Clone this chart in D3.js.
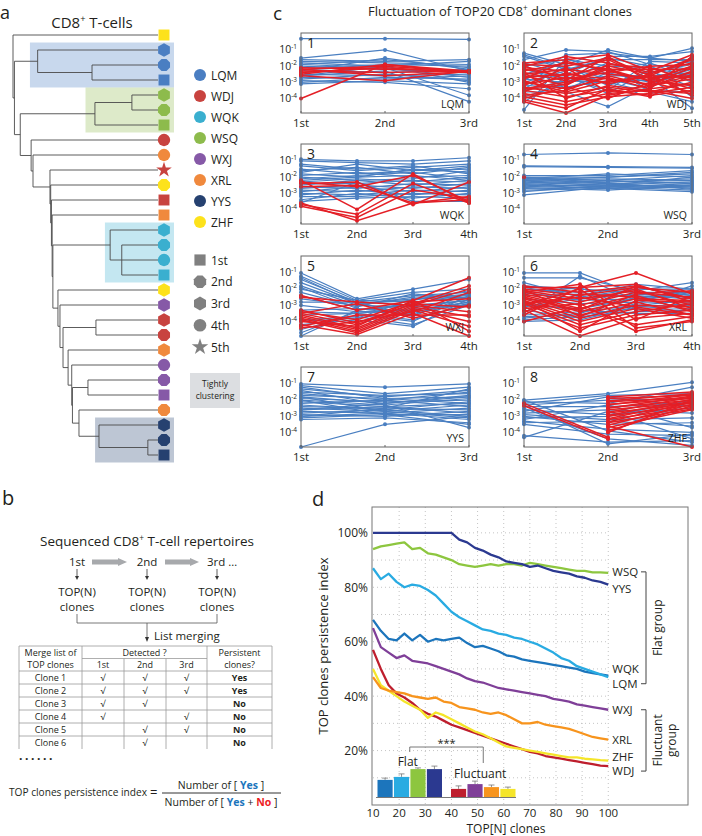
<!DOCTYPE html>
<html>
<head>
<meta charset="utf-8">
<script src="https://cdn.jsdelivr.net/npm/d3@7"></script>
<style>
  body { margin: 0; background: #fff; }
  text { font-family: "Open Sans", "Noto Sans", sans-serif; fill: #231f20; }
</style>
</head>
<body>
<div id="fig"></div>
<script>
// ---------- data: panel a (dendrogram) ----------
const patients = ["LQM", "WDJ", "WQK", "WSQ", "WXJ", "XRL", "YYS", "ZHF"];
const patientColors = ["#4a7ec2", "#c8433f", "#3aafcf", "#8dbb4c", "#8659a7", "#f0893d", "#264170", "#fde21b"];
const timeLabels = ["1st", "2nd", "3rd", "4th", "5th"];
const leafPatient = ["ZHF","LQM","LQM","LQM","WSQ","WSQ","WSQ","WDJ","XRL","WDJ","ZHF","WDJ","XRL",
  "WQK","WQK","WQK","WQK","ZHF","WXJ","WDJ","WDJ","XRL","WXJ","WXJ","WXJ","XRL","YYS","YYS","YYS"];
const leafTime = [1,3,2,1, 3,2,1, 4,4,5,2,1,1, 3,2,4,1, 3,3,3,2,3,4,2,1,2, 3,2,1];
// [merge height, children...], leaves are indexes into leafPatient
const dendrogram =
  [0.00, 0,
    [0.01,
      [0.17, 1, [0.545, 2, 3]],
      [0.05,
        [0.565, [0.82, 4, 5], 6],
        [0.125, 7,
          [0.138, 8,
            [0.255, 9,
              [0.26, 10,
                [0.265, 11,
                  [0.27, 12,
                    [0.275,
                      [0.67, 13, [0.75, 14, 15, 16]],
                      [0.31, 17,
                        [0.324, 18,
                          [0.345,
                            [0.572, 19, 20],
                            [0.38, 21,
                              [0.405, 22,
                                [0.41,
                                  [0.517, 23, 24],
                                  [0.455, 25,
                                    [0.593, 26, [0.93, 27, 28]]]]]]]]]]]]]]]]]]];
const clusters = [
  {patient: "LQM", first: 1, last: 3, h: 0.117},
  {patient: "WSQ", first: 4, last: 6, h: 0.50},
  {patient: "WQK", first: 13, last: 16, h: 0.634},
  {patient: "YYS", first: 26, last: 28, h: 0.566}
];

// ---------- data: panel c (log10 frequency of TOP20 clones per timepoint) ----------
const lqmBlue = [[-0.3,-0.3,-0.35],[-1.5,-1.0,-2.3],[-1.6,-1.7,-1.6],[-1.7,-1.8,-1.9],[-1.8,-2.0,-1.7],
  [-1.9,-1.6,-2.1],[-2.0,-2.2,-2.4],[-2.1,-1.9,-2.0],[-2.2,-2.4,-2.2],[-2.4,-2.1,-3.8],[-2.5,-2.6,-2.5],
  [-2.6,-2.3,-4.2],[-2.7,-2.8,-2.6],[-2.8,-2.5,-2.9],[-2.9,-3.0,-3.4],[-3.0,-2.7,-2.8],[-3.1,-2.9,-3.1],
  [-2.3,-1.5,-2.2],[-1.9,-2.1,-2.7],[-2.6,-2.0,-3.0]];
const lqmRed = [[-2.1,-2.2,-2.3],[-2.2,-2.0,-2.35],[-2.3,-2.4,-2.3],[-2.4,-2.1,-2.4],[-2.5,-1.9,-2.4],
  [-2.2,-2.6,-2.35],[-2.6,-2.9,-2.3],[-4.0,-1.9,-2.3]];
const wdjBlue = [[-1.2,-1.9,-1.0,-1.5,-0.9],[-1.4,-2.2,-1.6,-1.6,-1.6],[-1.6,-1.0,-1.1,-1.9,-2.2],
  [-1.8,-2.5,-1.4,-1.4,-1.1],[-2.0,-1.6,-2.0,-2.1,-2.6],[-2.2,-2.8,-1.8,-2.4,-1.9],[-2.5,-1.8,-2.3,-1.8,-2.8],
  [-2.8,-3.0,-2.6,-2.6,-2.4],[-3.0,-2.3,-1.5,-2.0,-3.0],[-3.2,-3.3,-2.9,-2.9,-2.2],[-3.4,-2.0,-3.2,-2.3,-3.3],
  [-3.6,-3.6,-4.5,-3.2,-2.0],[-3.9,-3.1,-2.1,-3.5,-3.6],[-4.2,-2.7,-3.5,-1.7,-1.8],[-4.7,-1.5,-2.5,-2.7,-4.6],
  [-1.3,-2.1,-2.8,-3.4,-1.4],[-2.6,-2.6,-3.7,-2.2,-3.9],[-1.9,-3.4,-2.4,-3.0,-2.5],[-2.9,-1.3,-1.2,-1.5,-1.7],
  [-3.5,-2.9,-3.0,-3.6,-4.2]];
const wdjRed = [[-1.8,-1.6,-1.3,-2.3,-1.3],[-1.9,-2.0,-1.5,-2.6,-1.5],[-2.0,-1.4,-1.8,-2.4,-1.8],
  [-2.1,-2.3,-1.6,-2.8,-2.0],[-2.2,-2.6,-2.0,-2.5,-1.6],[-2.3,-1.8,-2.2,-2.2,-2.2],[-2.4,-2.9,-1.4,-3.0,-2.4],
  [-2.5,-2.2,-2.5,-2.7,-2.6],[-2.6,-3.2,-1.9,-2.1,-2.9],[-2.7,-2.5,-2.8,-3.1,-2.1],[-2.8,-1.7,-2.3,-2.9,-3.2],
  [-3.0,-3.4,-2.7,-3.4,-1.4],[-3.1,-2.7,-3.0,-2.6,-2.7],[-3.3,-3.7,-3.3,-3.6,-3.0],[-3.4,-3.0,-2.1,-3.3,-2.3],
  [-3.5,-3.9,-3.5,-3.8,-3.5],[-3.6,-2.4,-3.1,-2.5,-3.8],[-3.7,-4.2,-3.7,-3.5,-4.0],[-3.8,-3.5,-2.6,-3.2,-2.8],
  [-3.9,-4.4,-3.9,-3.7,-3.3],[-4.0,-3.3,-4.0,-3.0,-3.6],[-4.1,-4.6,-3.4,-3.9,-2.5],[-4.2,-4.9,-3.8,-3.4,-3.1],
  [-2.0,-2.8,-2.4,-2.0,-1.9],[-2.9,-3.6,-2.9,-2.7,-3.4],[-3.2,-2.1,-3.6,-3.2,-2.6],[-2.4,-4.0,-3.2,-3.5,-3.7],
  [-3.5,-3.1,-2.2,-2.9,-2.0]];
const wqkBlue = [[-0.9,-1.0,-1.0,-0.8],[-1.0,-1.1,-1.2,-1.0],[-1.3,-1.6,-1.4,-1.2],[-1.5,-1.8,-1.6,-1.5],
  [-1.6,-1.4,-1.8,-1.4],[-1.8,-2.0,-1.5,-1.7],[-1.9,-1.7,-2.0,-1.9],[-2.0,-2.2,-2.1,-1.6],[-2.1,-1.9,-1.7,-2.1],
  [-2.3,-2.1,-2.3,-2.0],[-2.4,-2.4,-2.2,-2.3],[-2.5,-2.2,-2.5,-2.2],[-2.6,-2.7,-2.4,-2.5],[-2.7,-2.5,-2.7,-2.4],
  [-2.8,-2.9,-2.6,-2.7],[-2.9,-2.6,-2.9,-2.6],[-3.0,-3.1,-2.8,-2.9],[-3.1,-2.8,-3.1,-2.8],[-3.2,-3.2,-3.0,-3.1],
  [-3.4,-3.0,-3.3,-3.0],[-3.5,-3.3,-3.2,-3.3],[-3.6,-2.3,-3.5,-3.5],[-1.2,-1.5,-1.3,-1.8],[-2.2,-2.0,-1.9,-2.2],
  [-1.7,-1.2,-1.6,-1.3]];
const wqkRed = [[-2.2,-4.0,-1.8,-3.6],[-2.4,-2.3,-3.7,-2.3],[-2.6,-2.5,-3.6,-3.4],[-3.7,-4.3,-2.4,-3.6],
  [-3.8,-4.5,-2.8,-3.3],[-3.6,-4.7,-3.6,-3.2],[-2.3,-2.6,-1.9,-3.5]];
const wsqBlue = [[-0.6,-0.5,-0.6],[-1.3,-1.35,-1.4],[-1.35,-1.4,-1.45],[-1.9,-1.9,-1.6],[-2.0,-2.0,-1.8],
  [-2.05,-2.2,-1.9],[-2.1,-1.8,-2.0],[-2.15,-2.3,-2.1],[-2.2,-2.1,-2.2],[-2.25,-2.4,-2.3],[-2.3,-2.5,-2.0],
  [-2.35,-2.2,-2.4],[-2.4,-2.6,-2.5],[-2.45,-2.3,-2.2],[-2.5,-2.7,-2.6],[-2.55,-2.5,-2.3],[-2.6,-2.4,-2.7],
  [-2.65,-2.8,-2.5],[-2.7,-2.6,-2.8],[-2.8,-2.7,-2.9],[-2.9,-2.5,-2.6],[-3.1,-2.6,-2.4],[-2.0,-2.35,-2.75],
  [-2.2,-2.0,-1.7]];
const wsqRed = [[-2.0, null, null]];
const wxjBlue = [[-1.0,-2.6,-2.0,-1.4],[-1.2,-2.7,-2.2,-2.0],[-1.4,-2.8,-2.4,-2.2],[-1.6,-2.9,-2.6,-2.3],
  [-1.8,-3.0,-2.5,-2.4],[-2.0,-2.7,-2.8,-2.5],[-2.2,-3.1,-2.3,-2.6],[-2.4,-3.3,-2.9,-2.3],[-2.6,-3.0,-3.1,-2.7],
  [-3.0,-3.4,-3.3,-2.8],[-3.3,-3.2,-3.6,-2.5],[-3.6,-3.5,-3.9,-2.9],[-3.9,-3.7,-4.2,-3.0],[-4.2,-3.9,-4.3,-2.6],
  [-4.5,-3.6,-4.0,-2.4],[-4.9,-3.3,-3.0,-2.7],[-1.3,-2.9,-2.7,-2.1],[-1.9,-3.2,-3.4,-2.8],[-2.8,-2.8,-3.7,-2.2],
  [-3.4,-3.5,-3.2,-3.0],[-4.0,-3.8,-2.6,-2.5],[-4.7,-3.4,-3.5,-2.9]];
const wxjRed = [[-2.4,-3.3,-2.7,-1.3],[-2.5,-2.8,-3.0,-2.0],[-3.4,-3.9,-2.8,-2.6],[-3.5,-4.2,-2.9,-3.1],
  [-3.6,-4.4,-3.0,-3.4],[-3.7,-4.5,-3.1,-3.7],[-3.8,-4.6,-3.2,-4.0],[-3.9,-4.7,-3.3,-4.3],[-4.0,-4.3,-2.7,-4.6],
  [-4.2,-4.8,-3.5,-4.9],[-4.4,-4.0,-3.4,-2.2],[-3.5,-2.9,-3.8,-3.0],[-3.3,-4.1,-2.9,-1.8],[-4.3,-3.6,-3.6,-3.6]];
const xrlBlue = [[-1.0,-1.0,-2.3,-2.5],[-1.3,-1.3,-2.1,-1.6],[-1.6,-2.5,-2.0,-2.0],[-1.8,-2.0,-2.2,-2.2],
  [-2.0,-2.2,-1.9,-2.4],[-2.2,-2.7,-2.6,-2.1],[-2.4,-2.3,-2.4,-2.6],[-2.6,-2.9,-2.8,-2.8],[-3.6,-3.4,-3.0,-2.7],
  [-3.7,-3.6,-3.2,-3.0],[-3.8,-3.5,-2.5,-2.3],[-3.9,-3.7,-3.4,-3.3],[-4.0,-3.9,-3.1,-2.9],[-3.5,-1.2,-2.7,-2.2],
  [-2.9,-3.3,-3.5,-3.5],[-3.3,-3.8,-2.9,-1.8],[-3.1,-2.6,-2.3,-2.5],[-1.9,-2.4,-1.7,-2.0],[-2.3,-1.9,-3.3,-3.2],
  [-3.0,-3.2,-2.6,-2.4]];
const xrlRed = [[-1.8,-2.2,-1.8,-2.6],[-1.9,-1.9,-1.7,-2.8],[-2.0,-2.4,-1.9,-2.2],[-2.1,-2.6,-2.1,-3.0],
  [-2.2,-2.8,-2.0,-3.2],[-2.3,-3.0,-2.2,-2.5],[-2.4,-3.2,-2.4,-3.4],[-2.5,-3.4,-2.6,-2.7],[-2.6,-3.6,-2.8,-3.6],
  [-2.7,-3.8,-3.0,-3.1],[-2.8,-4.0,-3.2,-3.8],[-2.9,-4.2,-3.4,-2.9],[-3.1,-4.4,-3.6,-3.3],[-3.3,-4.9,-3.8,-3.5],
  [-3.6,-1.9,-1.0,-2.3],[-4.0,-3.1,-4.2,-3.7],[-3.0,-2.0,-4.4,-4.0],[-3.2,-2.9,-4.6,-3.9],[-2.2,-1.7,-3.9,-2.4],
  [-2.5,-3.3,-1.8,-2.6],[-3.4,-2.3,-2.5,-3.3],[-2.0,-3.7,-2.3,-2.1],[-2.9,-2.5,-3.1,-3.6],[-2.7,-4.6,-2.7,-2.8]];
const yysBlue = [[-1.0,-1.2,-1.0],[-1.1,-1.6,-1.2],[-1.3,-1.8,-1.4],[-1.5,-1.7,-1.6],[-1.6,-2.0,-1.5],
  [-1.7,-1.9,-1.8],[-1.8,-2.2,-1.7],[-1.9,-2.1,-2.0],[-2.0,-2.3,-1.9],[-2.1,-2.4,-2.2],[-2.2,-2.0,-2.4],
  [-2.3,-2.6,-2.1],[-2.4,-2.5,-2.6],[-2.5,-2.7,-2.3],[-2.6,-2.4,-2.8],[-2.7,-2.8,-2.5],[-2.8,-2.6,-3.0],
  [-2.9,-3.0,-2.7],[-3.0,-2.8,-3.2],[-3.1,-2.9,-2.9],[-3.2,-3.1,-3.4],[-4.9,-3.5,-3.0],[-1.4,-2.3,-3.7],
  [-2.0,-2.9,-3.5],[-1.2,-1.9,-2.2],[-2.6,-2.2,-1.8],[-3.0,-2.5,-1.3],[-1.8,-2.7,-3.1]];
const yysRed = [];
const zhfBlue = [[-2.0,-1.6,-0.9],[-2.1,-2.2,-1.2],[-2.2,-1.7,-1.6],[-2.3,-2.0,-1.9],[-2.4,-2.4,-2.2],
  [-2.6,-2.9,-2.5],[-2.8,-2.6,-2.8],[-2.9,-3.2,-3.1],[-3.0,-3.5,-3.4],[-3.2,-2.3,-3.7],[-3.3,-3.8,-4.0],
  [-3.5,-4.1,-4.2],[-4.3,-2.7,-4.4],[-4.2,-4.6,-4.5],[-2.0,-3.9,-4.6],[-2.5,-4.4,-4.8],[-3.1,-3.0,-2.0],
  [-2.7,-1.8,-2.4],[-3.4,-3.3,-3.6],[-2.3,-4.7,-4.1]];
const zhfRed = [[null,-1.8,-1.5],[null,-1.9,-1.7],[null,-2.05,-1.6],[null,-2.1,-1.85],[null,-2.25,-1.9],
  [null,-2.3,-1.65],[null,-2.45,-2.0],[null,-2.5,-1.75],[null,-2.6,-2.15],[null,-2.75,-1.8],[null,-2.8,-2.2],
  [null,-2.95,-1.95],[null,-3.0,-2.3],[null,-3.15,-2.05],[null,-3.2,-2.45],[null,-3.35,-2.1],[null,-3.4,-2.55],
  [null,-3.55,-2.25],[null,-3.7,-2.6],[null,-3.9,-2.35],[null,-4.0,-2.0],[-2.2,-4.3,null],[-2.35,-4.4,null],
  [null,-3.6,-4.9]];

// ---------- data: panel d (TOP clones persistence index, %) ----------
const topN = [10,13,16,19,22,25,28,31,34,37,40,43,46,49,52,55,58,61,64,67,70,73,76,79,82,85,88,91,94,97,100];
const wdjIndex = [57,50,44,41,39.5,37.5,35,33.5,32.5,31,29.5,28.5,27.5,26.5,25.5,24.5,23.5,22.5,21.5,20.5,19.5,19,18,17.5,17,16.5,16,15.5,15,14.5,14.3];
const zhfIndex = [50,44,42,40,38,36.5,35,32,34,33,31.5,30,28.5,27,26,24.5,23,21.5,21,20.5,20,19.5,19,18.5,18,17.5,17.5,17,16.8,16.5,16.3];
const xrlIndex = [47,43,42,41.5,41,40,39.5,39,39.5,38,37.5,36,35.5,35,34,33.5,34,33,31.5,30,30,30.5,29.5,29,28.5,28,27,26,25,24.5,24];
const wxjIndex = [65,58,56,54,55,53,52.5,52,51,50,49,48,46.5,45.5,45,44,43,42.5,42,41.5,41,40.5,40,39,38.5,38,37,36.5,36,35.5,35];
const lqmIndex = [68,64,61,60.5,63,60.5,62.5,60,61,60.5,61,61.5,59.5,58,58.5,57.5,56.5,55,54.5,53.5,53,52.5,52,51.5,51,50.5,50,49,48.5,48,47.5];
const wqkIndex = [87,83,85,82,80,81,80.5,79,77,74,71,69,67.5,66,64.5,64,63,62.5,61.5,61,60,59,57.5,56,54,53,51,50,49,48,47];
const wsqIndex = [94,95,95.5,96,96.5,94,94.5,92.5,92,91,90,88.5,88,87.5,88,88.5,88,88.5,88.5,88,89,88.5,88,87.5,87,86.5,86,86,85.5,85.5,85.3];
const yysIndex = [100,100,100,100,100,100,100,100,100,100,100,97.5,96.5,94.5,93.5,92,91,89.5,89,88.5,87.5,88,87,86,85.5,85,84,83.5,82.5,82,81];
const flatGroup = ["LQM", "WQK", "WSQ", "YYS"];
const fluctGroup = ["WDJ", "WXJ", "XRL", "ZHF"];
const insetMean = {LQM: 0.57, WQK: 0.67, WSQ: 0.93, YYS: 0.93, WDJ: 0.27, WXJ: 0.43, XRL: 0.33, ZHF: 0.27};
const insetErr = {LQM: 0.06, WQK: 0.10, WSQ: 0.04, YYS: 0.10, WDJ: 0.10, WXJ: 0.10, XRL: 0.07, ZHF: 0.06};

// ---------- data: panel b table ----------
const tableRows = [
  ["Clone 1", 1, 1, 1, "Yes"], ["Clone 2", 1, 1, 1, "Yes"], ["Clone 3", 1, 1, 0, "No"],
  ["Clone 4", 1, 0, 1, "No"], ["Clone 5", 0, 1, 1, "No"], ["Clone 6", 0, 1, 0, "No"]
];

// ---------------------------------------------------------------
const svg = d3.select("#fig").append("svg").attr("width", 702).attr("height", 836);

function supText(g, x, y, base, sup, size, anchor, after) {
  const t = g.append("text").attr("x", x).attr("y", y).attr("font-size", size)
    .attr("text-anchor", anchor || "start");
  t.append("tspan").text(base);
  t.append("tspan").attr("dy", -size * 0.4).attr("font-size", size * 0.62).text(sup);
  if (after) t.append("tspan").attr("dy", size * 0.4).text(after);
  return t;
}

// symbol shapes for timepoints
const polygon = (n, rot) => ({
  draw(ctx, size) {
    const r = Math.sqrt(size / (0.5 * n * Math.sin(2 * Math.PI / n)));
    for (let i = 0; i < n; i++) {
      const a = rot + 2 * Math.PI * i / n;
      i ? ctx.lineTo(r * Math.cos(a), r * Math.sin(a)) : ctx.moveTo(r * Math.cos(a), r * Math.sin(a));
    }
    ctx.closePath();
  }
});
const timeShapes = [d3.symbolSquare, polygon(8, Math.PI / 8), polygon(6, -Math.PI / 2), d3.symbolCircle, d3.symbolStar];
const pColor = d3.scaleOrdinal().domain(patients).range(patientColors);

// ================= panel a =================
svg.append("text").attr("x", 0).attr("y", 19).attr("font-size", 18).text("a");
supText(svg, 92, 28, "CD8", "+", 15, "middle", " T-cells");

const leafY = d3.scalePoint().domain(d3.range(leafPatient.length)).range([35, 455]);
const treeX = d3.scaleLinear().domain([0, 1]).range([13, 158]);
const root = d3.hierarchy(dendrogram, d => Array.isArray(d) ? d.slice(1) : null);
root.eachAfter(n => {
  if (n.children) {
    n.x = treeX(n.data[0]);
    n.y = (n.children[0].y + n.children[n.children.length - 1].y) / 2;
  } else {
    n.x = treeX(1);
    n.y = leafY(n.data);
  }
});

const ga = svg.append("g");
ga.selectAll("rect.cluster").data(clusters).enter().append("rect")
  .attr("x", d => treeX(d.h))
  .attr("y", d => leafY(d.first) - 7.5)
  .attr("width", d => 174 - treeX(d.h))
  .attr("height", d => leafY(d.last) - leafY(d.first) + 15)
  .attr("fill", d => pColor(d.patient)).attr("fill-opacity", 0.3);

const links = [];
root.each(n => {
  if (!n.children) return;
  links.push(`M${n.x},${n.children[0].y}V${n.children[n.children.length - 1].y}`);
  n.children.forEach(c => links.push(`M${n.x},${c.y}H${c.x}`));
});
ga.append("path").attr("d", links.join("")).attr("fill", "none")
  .attr("stroke", "#4a4a4a").attr("stroke-width", 0.9);

ga.selectAll("path.leaf").data(root.leaves()).enter().append("path")
  .attr("transform", d => `translate(164,${d.y})`)
  .attr("d", d => d3.symbol(timeShapes[leafTime[d.data] - 1], leafTime[d.data] === 5 ? 75 : 120)())
  .attr("fill", d => pColor(leafPatient[d.data]));

// legend
const legY = d3.scalePoint().domain(patients).range([75, 222]);
patients.forEach(p => {
  ga.append("circle").attr("cx", 200).attr("cy", legY(p)).attr("r", 6).attr("fill", pColor(p));
  ga.append("text").attr("x", 211).attr("y", legY(p) + 4.5).attr("font-size", 12).text(p);
});
const shapeY = d3.scalePoint().domain(timeLabels).range([260, 347]);
timeLabels.forEach((t, i) => {
  ga.append("path").attr("transform", `translate(200,${shapeY(t)})`)
    .attr("d", d3.symbol(timeShapes[i], i === 4 ? 85 : 125)()).attr("fill", "#808080");
  ga.append("text").attr("x", 211).attr("y", shapeY(t) + 4.5).attr("font-size", 12).text(t);
});
ga.append("rect").attr("x", 190).attr("y", 373).attr("width", 50).attr("height", 35).attr("fill", "#dcdee1");
ga.append("text").attr("x", 215).attr("y", 387).attr("font-size", 8.5).attr("text-anchor", "middle").text("Tightly");
ga.append("text").attr("x", 215).attr("y", 399).attr("font-size", 8.5).attr("text-anchor", "middle").text("clustering");

// ================= panel b =================
const gb = svg.append("g");
gb.append("text").attr("x", 2).attr("y", 505).attr("font-size", 20).text("b");
supText(gb, 147, 546, "Sequenced CD8", "+", 13.5, "middle", " T-cell repertoires");

const seqX = d3.scalePoint().domain(["1st", "2nd", "3rd"]).range([77, 217]);
seqX.domain().forEach((t, i) => {
  gb.append("text").attr("x", seqX(t)).attr("y", 566).attr("font-size", 11.5)
    .attr("text-anchor", i === 2 ? "start" : "middle")
    .attr("dx", i === 2 ? -10 : 0).text(i === 2 ? "3rd …" : t);
  gb.append("path").attr("d", `M${seqX(t)},569V577`).attr("stroke", "#333").attr("stroke-width", 0.8);
  gb.append("path").attr("d", `M${seqX(t) - 2},576L${seqX(t)},580L${seqX(t) + 2},576Z`).attr("fill", "#333");
  gb.append("text").attr("x", seqX(t)).attr("y", 596).attr("font-size", 11.5).attr("text-anchor", "middle").text("TOP(N)");
  gb.append("text").attr("x", seqX(t)).attr("y", 611).attr("font-size", 11.5).attr("text-anchor", "middle").text("clones");
});
// thick grey arrows between timepoints
[[92, 127], [165, 199]].forEach(([a, b]) => {
  gb.append("path").attr("d", `M${a},559.5H${b - 9}L${b - 9},558L${b},562L${b - 9},566L${b - 9},564.5H${a}Z`)
    .attr("fill", "#a7a9ac");
});
gb.append("path").attr("d", `M${seqX("1st")},614V623H${seqX("3rd")}V614M${seqX("2nd")},623V638`)
  .attr("fill", "none").attr("stroke", "#555").attr("stroke-width", 0.8);
gb.append("path").attr("d", `M${seqX("2nd") - 2},637L${seqX("2nd")},642L${seqX("2nd") + 2},637Z`).attr("fill", "#333");
gb.append("text").attr("x", 154).attr("y", 640).attr("font-size", 11.5).text("List merging");

// table
const colX = [19, 82, 124, 166, 207, 272];
const rowY = d3.range(7).map(i => 671 + 13 * i);
const tb = gb.append("g").attr("stroke", "#9a9a9a").attr("stroke-width", 0.8);
tb.append("path").attr("d", `M${colX[0]},646H${colX[5]}M${colX[1]},658.5H${colX[4]}` +
  rowY.slice(0, 6).map(y => `M${colX[0]},${y}H${colX[5]}`).join("") +
  colX.map((x, i) => (i === 2 || i === 3) ? `M${x},658.5V749` : `M${x},646V749`).join(""));
const tcx = i => (colX[i] + colX[i + 1]) / 2;
const tt = (x, y, s) => gb.append("text").attr("x", x).attr("y", y).attr("font-size", 9)
  .attr("text-anchor", "middle").attr("fill", "#333").text(s);
tt(tcx(0), 656, "Merge list of"); tt(tcx(0), 668, "TOP clones");
tt((colX[1] + colX[4]) / 2, 656, "Detected ?");
["1st", "2nd", "3rd"].forEach((s, i) => tt(tcx(i + 1), 668, s));
tt(tcx(4), 656, "Persistent"); tt(tcx(4), 668, "clones?");
tableRows.forEach((r, j) => {
  const y = rowY[j] + 10;
  tt(tcx(0), y, r[0]);
  [1, 2, 3].forEach(k => { if (r[k]) tt(tcx(k), y, "√"); });
  tt(tcx(4), y, r[4]).attr("font-weight", "bold").attr("fill", r[4] === "Yes" ? "#1c75bc" : "#ed1c24");
});
gb.append("text").attr("x", 19).attr("y", 760).attr("font-size", 12).attr("font-weight", "bold")
  .attr("letter-spacing", 2.6).attr("fill", "#333").text("......");

// formula
gb.append("text").attr("x", 9).attr("y", 796).attr("font-size", 10).attr("textLength", 138)
  .attr("lengthAdjust", "spacingAndGlyphs").text("TOP clones persistence index");
gb.append("text").attr("x", 150).attr("y", 797).attr("font-size", 13).text("=");
gb.append("line").attr("x1", 162).attr("x2", 281).attr("y1", 793).attr("y2", 793).attr("stroke", "#333");
function fraction(y, parts) {
  const t = gb.append("text").attr("x", 221).attr("y", y).attr("font-size", 10.5).attr("text-anchor", "middle");
  parts.forEach(([s, c]) => {
    const sp = t.append("tspan").text(s);
    if (c) sp.attr("fill", c).attr("font-weight", "bold");
  });
}
fraction(789, [["Number of [ "], ["Yes", "#1c75bc"], [" ]"]]);
fraction(806, [["Number of [ "], ["Yes", "#1c75bc"], [" + "], ["No", "#ed1c24"], [" ]"]]);

// ================= panel c =================
svg.append("text").attr("x", 273).attr("y", 20).attr("font-size", 19).text("c");
supText(svg, 500, 16, "Fluctuation of TOP20 CD8", "+", 13, "middle", " dominant clones");

const cPanels = [
  {num: 1, name: "LQM", times: 3, blue: lqmBlue, red: lqmRed},
  {num: 2, name: "WDJ", times: 5, blue: wdjBlue, red: wdjRed},
  {num: 3, name: "WQK", times: 4, blue: wqkBlue, red: wqkRed},
  {num: 4, name: "WSQ", times: 3, blue: wsqBlue, red: wsqRed},
  {num: 5, name: "WXJ", times: 4, blue: wxjBlue, red: wxjRed},
  {num: 6, name: "XRL", times: 4, blue: xrlBlue, red: xrlRed},
  {num: 7, name: "YYS", times: 3, blue: yysBlue, red: yysRed},
  {num: 8, name: "ZHF", times: 3, blue: zhfBlue, red: zhfRed}
];
const cCols = [301, 524], cRows = [33, 144, 256, 367], pw = 168, ph = 80;
cPanels.forEach((p, i) => {
  const g = svg.append("g").attr("transform", `translate(${cCols[i % 2]},${cRows[Math.floor(i / 2)]})`);
  const times = timeLabels.slice(0, p.times);
  const x = d3.scalePoint().domain(times).range([0, pw]);
  const y = d3.scaleLinear().domain([-4.9, 0.05]).range([ph, 0]);
  const line = d3.line().defined(v => v != null).x((v, k) => x(times[k])).y(v => y(v));

  [[p.blue, "#4a7fc1", 1.2], [p.red, "#e41f26", 1.5]].forEach(([series, col, sw]) => {
    const sg = g.append("g");
    sg.selectAll("path").data(series).enter().append("path")
      .attr("d", line).attr("fill", "none").attr("stroke", col).attr("stroke-width", sw);
    series.forEach(s => s.forEach((v, k) => {
      if (v == null) return;
      sg.append("circle").attr("cx", x(times[k])).attr("cy", y(v)).attr("r", 2).attr("fill", col);
    }));
  });

  g.append("rect").attr("width", pw).attr("height", ph).attr("fill", "none")
    .attr("stroke", "#666").attr("stroke-width", 1);
  times.forEach(t => g.append("line").attr("x1", x(t)).attr("x2", x(t)).attr("y1", ph).attr("y2", ph - 2).attr("stroke", "#666"));
  [-1, -2, -3, -4].forEach(k => supText(g, -4, y(k) + 3.5, "10", String(k), 10.5, "end"));
  times.forEach(t => g.append("text").attr("x", x(t)).attr("y", ph + 14).attr("font-size", 11.5)
    .attr("text-anchor", "middle").text(t));
  g.append("text").attr("x", 6).attr("y", 15).attr("font-size", 14).text(p.num);
  g.append("text").attr("x", pw - 5).attr("y", ph - 5).attr("font-size", 10.5)
    .attr("text-anchor", "end").text(p.name);
});

// ================= panel d =================
const gd = svg.append("g");
gd.append("text").attr("x", 312).attr("y", 506).attr("font-size", 20).text("d");
const dx = d3.scaleLinear().domain([10, 130.5]).range([373, 688]);
const dy = d3.scaleLinear().domain([0, 109.5]).range([805, 507]);

const gridG = gd.append("g").attr("stroke", "#b5b5b5").attr("stroke-width", 0.8).attr("stroke-dasharray", "1,3");
d3.range(20, 101, 10).forEach(v => gridG.append("line").attr("x1", dx(v)).attr("x2", dx(v)).attr("y1", 507).attr("y2", 805));
d3.range(10, 101, 10).forEach(v => gridG.append("line").attr("x1", dx(10)).attr("x2", dx(100)).attr("y1", dy(v)).attr("y2", dy(v)));
gd.append("rect").attr("x", 372).attr("y", 507).attr("width", 316).attr("height", 298)
  .attr("fill", "none").attr("stroke", "#777").attr("stroke-width", 1);

d3.range(20, 101, 20).forEach(v => gd.append("text").attr("x", 368).attr("y", dy(v) + 4.5)
  .attr("font-size", 12).attr("text-anchor", "end").text(v + "%"));
d3.range(10, 101, 10).forEach(v => gd.append("text").attr("x", dx(v)).attr("y", 817)
  .attr("font-size", 11.5).attr("text-anchor", "middle").text(v));
gd.append("text").attr("x", 506).attr("y", 833).attr("font-size", 12).attr("text-anchor", "middle").text("TOP[N] clones");
gd.append("text").attr("transform", "translate(328,646) rotate(-90)").attr("font-size", 13)
  .attr("text-anchor", "middle").text("TOP clones persistence index");

const dSeries = [
  {name: "WDJ", values: wdjIndex, color: "#be1e2d", nudge: 5},
  {name: "ZHF", values: zhfIndex, color: "#f5e52a", nudge: -4},
  {name: "XRL", values: xrlIndex, color: "#f7941d", nudge: 0},
  {name: "WXJ", values: wxjIndex, color: "#7f3f98", nudge: 0},
  {name: "LQM", values: lqmIndex, color: "#1c75bc", nudge: 8},
  {name: "WQK", values: wqkIndex, color: "#29abe2", nudge: -8},
  {name: "WSQ", values: wsqIndex, color: "#8dc63f", nudge: -1},
  {name: "YYS", values: yysIndex, color: "#2b3990", nudge: 4}
];
const dLine = d3.line().x((v, i) => dx(topN[i])).y(v => dy(v));
dSeries.forEach(s => {
  gd.append("path").attr("d", dLine(s.values)).attr("fill", "none")
    .attr("stroke", s.color).attr("stroke-width", 2.3).attr("stroke-linejoin", "round");
  gd.append("text").attr("x", dx(100) + 4).attr("y", dy(s.values[s.values.length - 1]) + s.nudge + 4)
    .attr("font-size", 11.5).attr("fill", "#333").text(s.name);
});

// group brackets
const lblY = name => { const s = dSeries.find(d => d.name === name); return dy(s.values[s.values.length - 1]) + s.nudge; };
[[lblY("WSQ"), lblY("LQM")], [lblY("WXJ"), lblY("WDJ")]].forEach(([a, b]) => {
  gd.append("path").attr("d", `M641,${a}H646V${b}H641`).attr("fill", "none").attr("stroke", "#444").attr("stroke-width", 1);
});
gd.append("text").attr("transform", `translate(662,${(lblY("WSQ") + lblY("LQM")) / 2}) rotate(-90)`)
  .attr("font-size", 12).attr("text-anchor", "middle").text("Flat group");
const fm = (lblY("WXJ") + lblY("WDJ")) / 2;
gd.append("text").attr("transform", `translate(662,${fm}) rotate(-90)`)
  .attr("font-size", 12).attr("text-anchor", "middle").text("Fluctuant");
gd.append("text").attr("transform", `translate(676,${fm}) rotate(-90)`)
  .attr("font-size", 12).attr("text-anchor", "middle").text("group");

// inset bar chart
const colorOf = name => dSeries.find(d => d.name === name).color;
const bxFlat = d3.scaleBand().domain(flatGroup).range([377.5, 442]).paddingInner(0.08);
const bxFluct = d3.scaleBand().domain(fluctGroup).range([451, 515.5]).paddingInner(0.08);
const by = d3.scaleLinear().domain([0, 1]).range([797, 767]);
[[flatGroup, bxFlat], [fluctGroup, bxFluct]].forEach(([names, bx]) => {
  names.forEach(n => {
    const cx = bx(n) + bx.bandwidth() / 2;
    gd.append("path").attr("d", `M${cx},${by(insetMean[n])}V${by(insetMean[n] + insetErr[n])}M${cx - 3},${by(insetMean[n] + insetErr[n])}H${cx + 3}`)
      .attr("stroke", "#777").attr("stroke-width", 0.8);
    gd.append("rect").attr("x", bx(n)).attr("y", by(insetMean[n])).attr("width", bx.bandwidth())
      .attr("height", by(0) - by(insetMean[n])).attr("fill", colorOf(n));
  });
});
gd.append("line").attr("x1", 376).attr("x2", 516).attr("y1", 797.5).attr("y2", 797.5).attr("stroke", "#777");
const flatMid = (bxFlat.range()[0] + bxFlat.range()[1]) / 2, fluctMid = (bxFluct.range()[0] + bxFluct.range()[1]) / 2;
gd.append("path").attr("d", `M${flatMid},752V747H${fluctMid}V763`).attr("fill", "none").attr("stroke", "#555").attr("stroke-width", 0.8);
gd.append("text").attr("x", (flatMid + fluctMid) / 2).attr("y", 747).attr("font-size", 11).attr("text-anchor", "middle").text("***");
gd.append("text").attr("x", flatMid - 2).attr("y", 766).attr("font-size", 12).attr("text-anchor", "middle").text("Flat");
gd.append("text").attr("x", fluctMid - 3).attr("y", 778).attr("font-size", 12).attr("text-anchor", "middle").text("Fluctuant");
</script>
</body>
</html>
